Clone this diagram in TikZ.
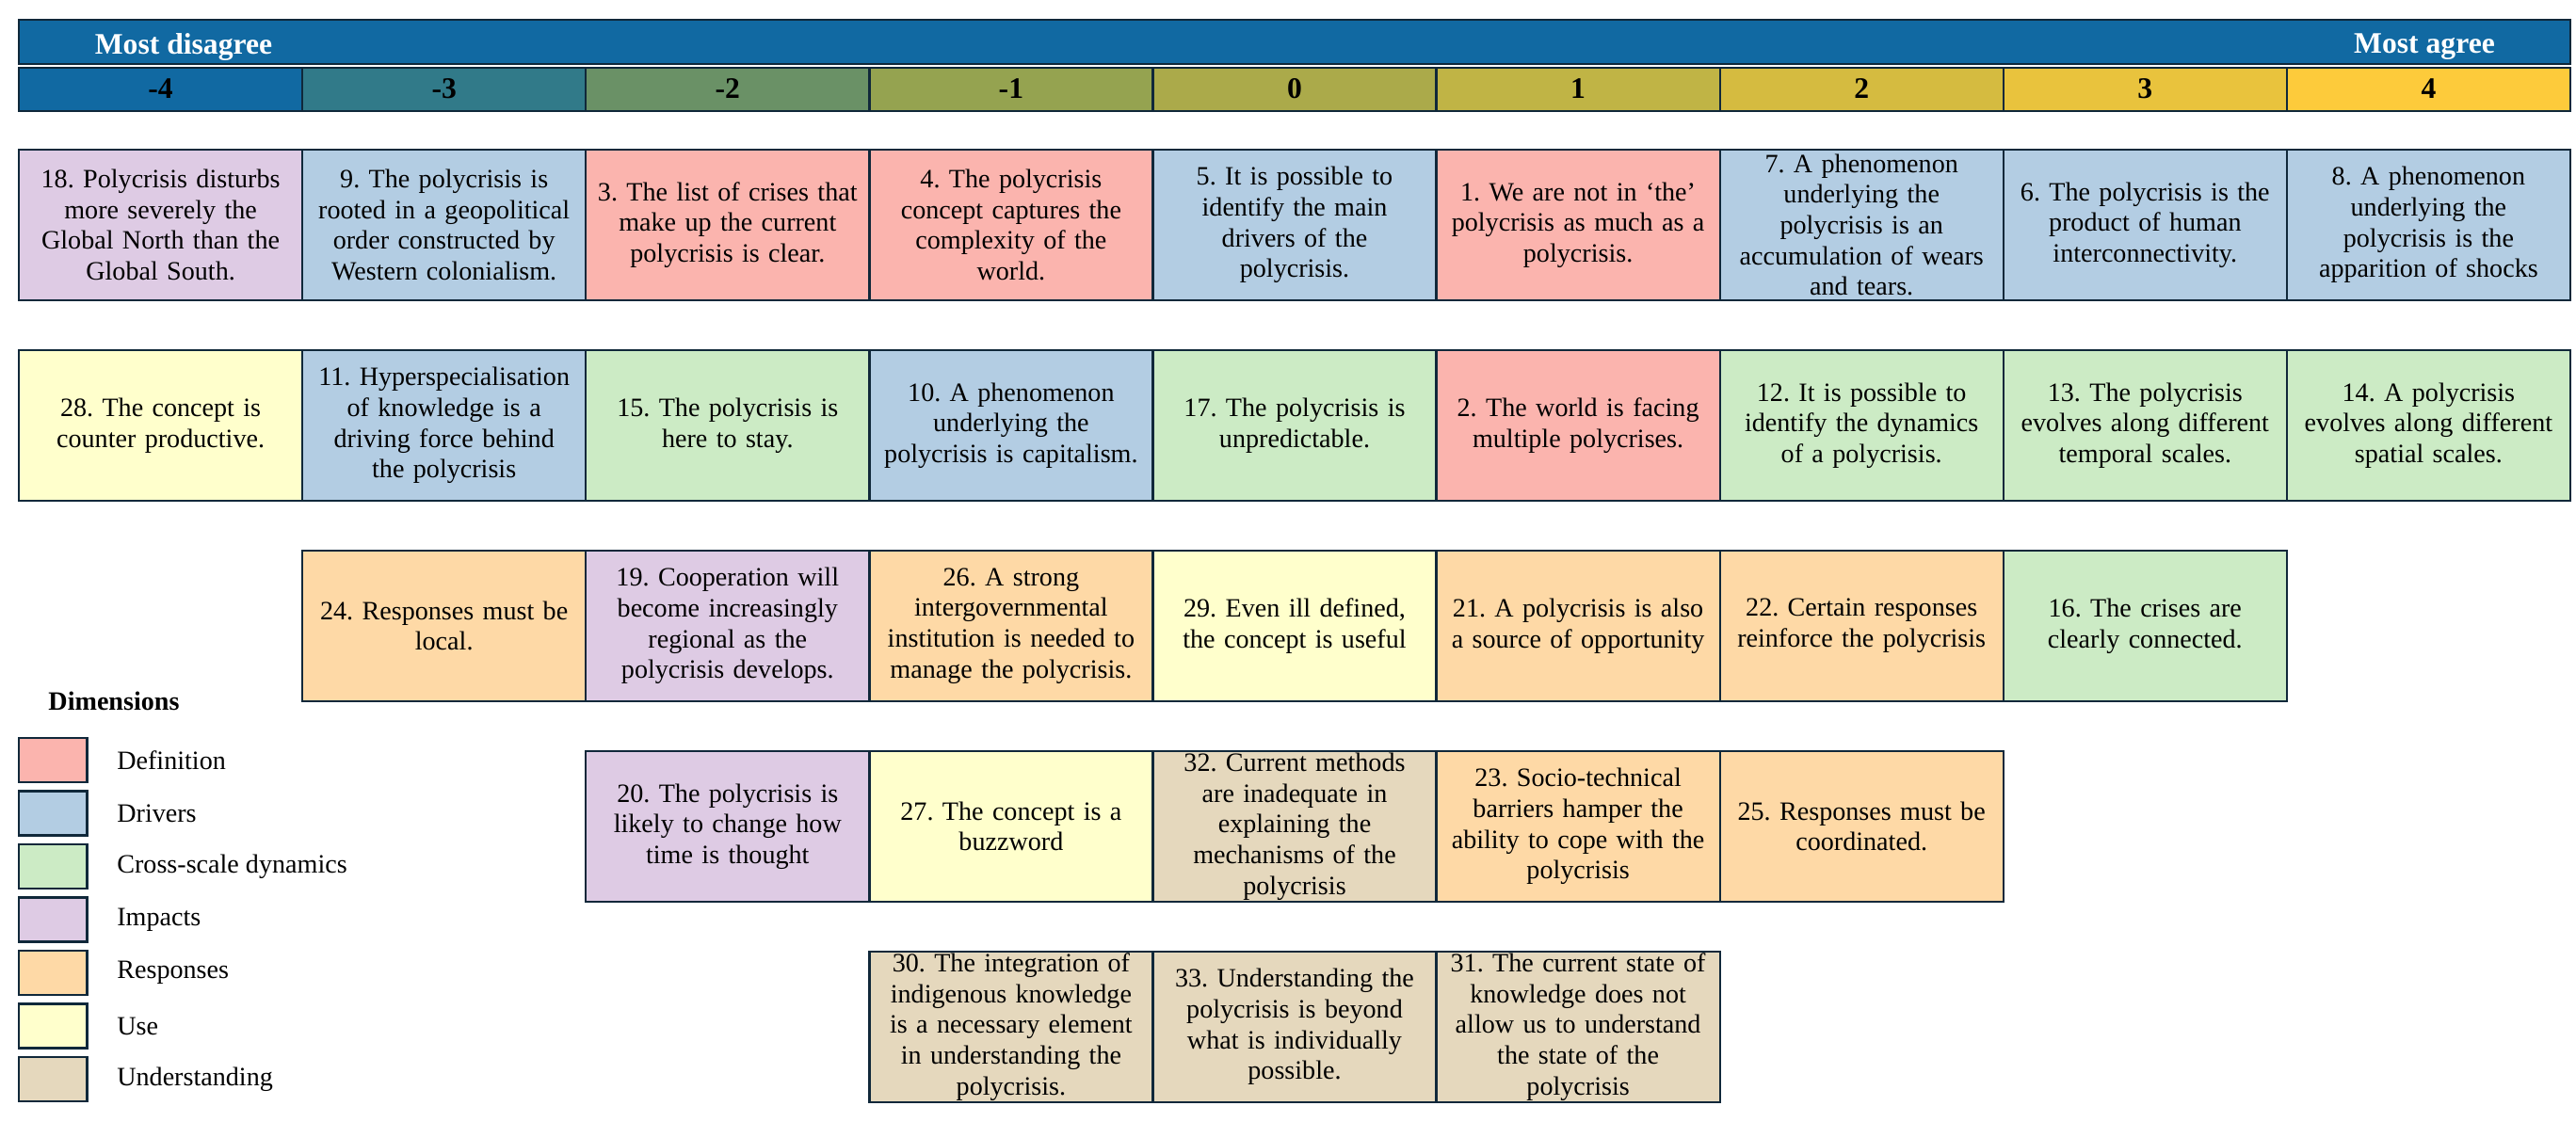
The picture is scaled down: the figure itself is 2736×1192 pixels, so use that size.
\documentclass[tikz,border=0pt]{standalone}
\usepackage{fontspec}
\setmainfont{Liberation Serif}
\usepackage{tikz}
\usetikzlibrary{positioning}
\frenchspacing

\definecolor{edge}{HTML}{10283A}
\definecolor{barblue}{HTML}{1169A2}
\definecolor{lvlm4}{HTML}{1169A2}
\definecolor{lvlm3}{HTML}{317A89}
\definecolor{lvlm2}{HTML}{6A9166}
\definecolor{lvlm1}{HTML}{95A350}
\definecolor{lvlz}{HTML}{ABAA4A}
\definecolor{lvlp1}{HTML}{C0B445}
\definecolor{lvlp2}{HTML}{D5BB40}
\definecolor{lvlp3}{HTML}{E9C33D}
\definecolor{lvlp4}{HTML}{FDCB3B}
\definecolor{defncol}{HTML}{FBB4AE}
\definecolor{drvcol}{HTML}{B3CDE3}
\definecolor{crosscol}{HTML}{CCEBC5}
\definecolor{impcol}{HTML}{DECBE4}
\definecolor{respcol}{HTML}{FED9A6}
\definecolor{usecol}{HTML}{FFFFCC}
\definecolor{undcol}{HTML}{E5D8BD}

\tikzset{
  card/.style={draw=edge, line width=0.65pt, minimum width=30.11mm, minimum height=16mm,
    text width=29.4mm, inner xsep=0.3mm, inner ysep=0pt, align=center,
    font=\fontsize{8}{9.3}\selectfont},
  scorecell/.style={draw=edge, line width=0.65pt, minimum width=30.11mm, minimum height=4.6mm,
    inner sep=0pt, text height=2.2mm, text depth=0.3mm, font=\fontsize{9}{10}\selectfont\bfseries},
  dDef/.style={card, fill=defncol},
  dDrv/.style={card, fill=drvcol},
  dCross/.style={card, fill=crosscol},
  dImp/.style={card, fill=impcol},
  dResp/.style={card, fill=respcol},
  dUse/.style={card, fill=usecol},
  dUnd/.style={card, fill=undcol},
  legbox/.style={draw=edge, line width=0.65pt, minimum width=7.25mm, minimum height=4.7mm, inner sep=0pt},
  legtext/.style={inner sep=0pt, anchor=west, font=\fontsize{8}{9.3}\selectfont}
}

\begin{document}
\begin{tikzpicture}[x=0.1mm, y=-0.1mm]
  \useasboundingbox (0,0) rectangle (2736,1192);

  % header bar
  \node[draw=edge, line width=0.65pt, fill=barblue, minimum width=271mm, minimum height=4.7mm, inner sep=0pt] (bar) at (1375,44.5) {};
  \node[text=white, font=\fontsize{9}{10}\selectfont\bfseries] (lo) at (195,50) {Most disagree};
  \node[text=white, font=\fontsize{9}{10}\selectfont\bfseries] (hi) at (2575,50) {Most agree};

  % score scale
  \node[scorecell, fill=lvlm4] (sm4) at (170.6,95) {-4};
  \node[scorecell, fill=lvlm3] (sm3) at (471.7,95) {-3};
  \node[scorecell, fill=lvlm2] (sm2) at (772.8,95) {-2};
  \node[scorecell, fill=lvlm1] (sm1) at (1073.9,95) {-1};
  \node[scorecell, fill=lvlz] (s0) at (1375,95) {0};
  \node[scorecell, fill=lvlp1] (s1) at (1676.1,95) {1};
  \node[scorecell, fill=lvlp2] (s2) at (1977.2,95) {2};
  \node[scorecell, fill=lvlp3] (s3) at (2278.3,95) {3};
  \node[scorecell, fill=lvlp4] (s4) at (2579.4,95) {4};

  % first row
  \node[dImp] (c18) at (170.6,239) {18. Polycrisis disturbs\\more severely the\\Global North than the\\Global South.};
  \node[dDrv] (c9) at (471.7,239) {9. The polycrisis is\\rooted in a geopolitical\\order constructed by\\Western colonialism.};
  \node[dDef] (c3) at (772.8,239) {3. The list of crises that\\make up the current\\polycrisis is clear.};
  \node[dDef] (c4) at (1073.9,239) {4. The polycrisis\\concept captures the\\complexity of the\\world.};
  \node[dDrv] (c5) at (1375,239) {5. It is possible to\\identify the main\\drivers of the\\polycrisis.};
  \node[dDef] (c1) at (1676.1,239) {1. We are not in ‘the’\\polycrisis as much as a\\polycrisis.};
  \node[dDrv] (c7) at (1977.2,239) {7. A phenomenon\\underlying the\\polycrisis is an\\accumulation of wears\\and tears.};
  \node[dDrv] (c6) at (2278.3,239) {6. The polycrisis is the\\product of human\\interconnectivity.};
  \node[dDrv] (c8) at (2579.4,239) {8. A phenomenon\\underlying the\\polycrisis is the\\apparition of shocks};

  % second row
  \node[dUse] (c28) at (170.6,452) {28. The concept is\\counter productive.};
  \node[dDrv] (c11) at (471.7,452) {11. Hyperspecialisation\\of knowledge is a\\driving force behind\\the polycrisis};
  \node[dCross] (c15) at (772.8,452) {15. The polycrisis is\\here to stay.};
  \node[dDrv] (c10) at (1073.9,452) {10. A phenomenon\\underlying the\\polycrisis is capitalism.};
  \node[dCross] (c17) at (1375,452) {17. The polycrisis is\\unpredictable.};
  \node[dDef] (c2) at (1676.1,452) {2. The world is facing\\multiple polycrises.};
  \node[dCross] (c12) at (1977.2,452) {12. It is possible to\\identify the dynamics\\of a polycrisis.};
  \node[dCross] (c13) at (2278.3,452) {13. The polycrisis\\evolves along different\\temporal scales.};
  \node[dCross] (c14) at (2579.4,452) {14. A polycrisis\\evolves along different\\spatial scales.};

  % third row
  \node[dResp] (c24) at (471.7,665) {24. Responses must be\\local.};
  \node[dImp] (c19) at (772.8,665) {19. Cooperation will\\become increasingly\\regional as the\\polycrisis develops.};
  \node[dResp] (c26) at (1073.9,665) {26. A strong\\intergovernmental\\institution is needed to\\manage the polycrisis.};
  \node[dUse] (c29) at (1375,665) {29. Even ill defined,\\the concept is useful};
  \node[dResp] (c21) at (1676.1,665) {21. A polycrisis is also\\a source of opportunity};
  \node[dResp] (c22) at (1977.2,665) {22. Certain responses\\reinforce the polycrisis};
  \node[dCross] (c16) at (2278.3,665) {16. The crises are\\clearly connected.};

  % fourth row
  \node[dImp] (c20) at (772.8,878) {20. The polycrisis is\\likely to change how\\time is thought};
  \node[dUse] (c27) at (1073.9,878) {27. The concept is a\\buzzword};
  \node[dUnd] (c32) at (1375,878) {32. Current methods\\are inadequate in\\explaining the\\mechanisms of the\\polycrisis};
  \node[dResp] (c23) at (1676.1,878) {23. Socio-technical\\barriers hamper the\\ability to cope with the\\polycrisis};
  \node[dResp] (c25) at (1977.2,878) {25. Responses must be\\coordinated.};

  % fifth row
  \node[dUnd] (c30) at (1073.9,1091) {30. The integration of\\indigenous knowledge\\is a necessary element\\in understanding the\\polycrisis.};
  \node[dUnd] (c33) at (1375,1091) {33. Understanding the\\polycrisis is beyond\\what is individually\\possible.};
  \node[dUnd] (c31) at (1676.1,1091) {31. The current state of\\knowledge does not\\allow us to understand\\the state of the\\polycrisis};

  % legend
  \node[font=\fontsize{8}{9.3}\selectfont\bfseries] (dims) at (121,745) {Dimensions};
  \node[legbox, fill=defncol] (lg1) at (56.25,807.5) {};
  \node[legbox, fill=drvcol] (lg2) at (56.25,864) {};
  \node[legbox, fill=crosscol] (lg3) at (56.25,920.5) {};
  \node[legbox, fill=impcol] (lg4) at (56.25,977) {};
  \node[legbox, fill=respcol] (lg5) at (56.25,1033.5) {};
  \node[legbox, fill=usecol] (lg6) at (56.25,1090) {};
  \node[legbox, fill=undcol] (lg7) at (56.25,1146.5) {};
  \node[legtext, right=3mm of lg1] (lt1) {Definition};
  \node[legtext, right=3mm of lg2] (lt2) {Drivers};
  \node[legtext, right=3mm of lg3] (lt3) {Cross-scale dynamics};
  \node[legtext, right=3mm of lg4] (lt4) {Impacts};
  \node[legtext, right=3mm of lg5] (lt5) {Responses};
  \node[legtext, right=3mm of lg6] (lt6) {Use};
  \node[legtext, right=3mm of lg7] (lt7) {Understanding};
\end{tikzpicture}
\end{document}
